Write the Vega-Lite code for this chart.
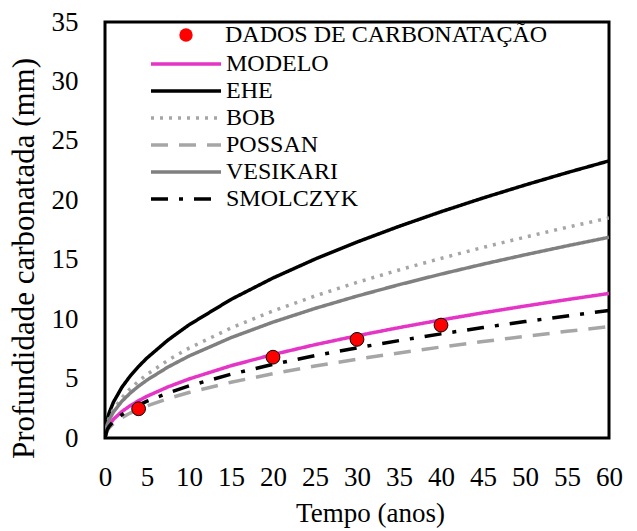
{
  "$schema": "https://vega.github.io/schema/vega-lite/v6.json",
  "width": 504,
  "height": 416,
  "autosize": {"type": "none"},
  "padding": {"left": 105, "top": 22, "right": 28, "bottom": 93},
  "background": "white",
  "config": {
    "font": "Liberation Serif",
    "view": {"stroke": "black", "strokeWidth": 3},
    "legend": {"labelFont": "Liberation Serif", "labelFontSize": 24, "labelColor": "black", "padding": 0, "labelLimit": 400}
  },
  "datasets": {
    "curvas": [
      {"t": 0, "d": 0, "serie": "MODELO"}, {"t": 0.25, "d": 0.785, "serie": "MODELO"}, {"t": 0.5, "d": 1.11, "serie": "MODELO"}, {"t": 1, "d": 1.57, "serie": "MODELO"}, {"t": 2, "d": 2.22, "serie": "MODELO"}, {"t": 3, "d": 2.719, "serie": "MODELO"}, {"t": 4, "d": 3.14, "serie": "MODELO"}, {"t": 5, "d": 3.511, "serie": "MODELO"}, {"t": 7.5, "d": 4.3, "serie": "MODELO"}, {"t": 10, "d": 4.965, "serie": "MODELO"}, {"t": 15, "d": 6.081, "serie": "MODELO"}, {"t": 20, "d": 7.021, "serie": "MODELO"}, {"t": 25, "d": 7.85, "serie": "MODELO"}, {"t": 30, "d": 8.599, "serie": "MODELO"}, {"t": 35, "d": 9.288, "serie": "MODELO"}, {"t": 40, "d": 9.93, "serie": "MODELO"}, {"t": 45, "d": 10.532, "serie": "MODELO"}, {"t": 50, "d": 11.102, "serie": "MODELO"}, {"t": 55, "d": 11.643, "serie": "MODELO"}, {"t": 60, "d": 12.161, "serie": "MODELO"},
      {"t": 0, "d": 0, "serie": "EHE"}, {"t": 0.25, "d": 1.505, "serie": "EHE"}, {"t": 0.5, "d": 2.128, "serie": "EHE"}, {"t": 1, "d": 3.01, "serie": "EHE"}, {"t": 2, "d": 4.257, "serie": "EHE"}, {"t": 3, "d": 5.214, "serie": "EHE"}, {"t": 4, "d": 6.02, "serie": "EHE"}, {"t": 5, "d": 6.731, "serie": "EHE"}, {"t": 7.5, "d": 8.243, "serie": "EHE"}, {"t": 10, "d": 9.519, "serie": "EHE"}, {"t": 15, "d": 11.658, "serie": "EHE"}, {"t": 20, "d": 13.461, "serie": "EHE"}, {"t": 25, "d": 15.05, "serie": "EHE"}, {"t": 30, "d": 16.486, "serie": "EHE"}, {"t": 35, "d": 17.807, "serie": "EHE"}, {"t": 40, "d": 19.037, "serie": "EHE"}, {"t": 45, "d": 20.192, "serie": "EHE"}, {"t": 50, "d": 21.284, "serie": "EHE"}, {"t": 55, "d": 22.323, "serie": "EHE"}, {"t": 60, "d": 23.315, "serie": "EHE"},
      {"t": 0, "d": 0, "serie": "BOB"}, {"t": 0.25, "d": 1.195, "serie": "BOB"}, {"t": 0.5, "d": 1.69, "serie": "BOB"}, {"t": 1, "d": 2.39, "serie": "BOB"}, {"t": 2, "d": 3.38, "serie": "BOB"}, {"t": 3, "d": 4.14, "serie": "BOB"}, {"t": 4, "d": 4.78, "serie": "BOB"}, {"t": 5, "d": 5.344, "serie": "BOB"}, {"t": 7.5, "d": 6.545, "serie": "BOB"}, {"t": 10, "d": 7.558, "serie": "BOB"}, {"t": 15, "d": 9.256, "serie": "BOB"}, {"t": 20, "d": 10.688, "serie": "BOB"}, {"t": 25, "d": 11.95, "serie": "BOB"}, {"t": 30, "d": 13.091, "serie": "BOB"}, {"t": 35, "d": 14.139, "serie": "BOB"}, {"t": 40, "d": 15.116, "serie": "BOB"}, {"t": 45, "d": 16.033, "serie": "BOB"}, {"t": 50, "d": 16.9, "serie": "BOB"}, {"t": 55, "d": 17.725, "serie": "BOB"}, {"t": 60, "d": 18.513, "serie": "BOB"},
      {"t": 0, "d": 0, "serie": "POSSAN"}, {"t": 0.25, "d": 0.605, "serie": "POSSAN"}, {"t": 0.5, "d": 0.856, "serie": "POSSAN"}, {"t": 1, "d": 1.21, "serie": "POSSAN"}, {"t": 2, "d": 1.711, "serie": "POSSAN"}, {"t": 3, "d": 2.096, "serie": "POSSAN"}, {"t": 4, "d": 2.42, "serie": "POSSAN"}, {"t": 5, "d": 2.706, "serie": "POSSAN"}, {"t": 7.5, "d": 3.314, "serie": "POSSAN"}, {"t": 10, "d": 3.826, "serie": "POSSAN"}, {"t": 15, "d": 4.686, "serie": "POSSAN"}, {"t": 20, "d": 5.411, "serie": "POSSAN"}, {"t": 25, "d": 6.05, "serie": "POSSAN"}, {"t": 30, "d": 6.627, "serie": "POSSAN"}, {"t": 35, "d": 7.158, "serie": "POSSAN"}, {"t": 40, "d": 7.653, "serie": "POSSAN"}, {"t": 45, "d": 8.117, "serie": "POSSAN"}, {"t": 50, "d": 8.556, "serie": "POSSAN"}, {"t": 55, "d": 8.974, "serie": "POSSAN"}, {"t": 60, "d": 9.373, "serie": "POSSAN"},
      {"t": 0, "d": 0, "serie": "VESIKARI"}, {"t": 0.25, "d": 1.09, "serie": "VESIKARI"}, {"t": 0.5, "d": 1.541, "serie": "VESIKARI"}, {"t": 1, "d": 2.18, "serie": "VESIKARI"}, {"t": 2, "d": 3.083, "serie": "VESIKARI"}, {"t": 3, "d": 3.776, "serie": "VESIKARI"}, {"t": 4, "d": 4.36, "serie": "VESIKARI"}, {"t": 5, "d": 4.875, "serie": "VESIKARI"}, {"t": 7.5, "d": 5.97, "serie": "VESIKARI"}, {"t": 10, "d": 6.894, "serie": "VESIKARI"}, {"t": 15, "d": 8.443, "serie": "VESIKARI"}, {"t": 20, "d": 9.749, "serie": "VESIKARI"}, {"t": 25, "d": 10.9, "serie": "VESIKARI"}, {"t": 30, "d": 11.94, "serie": "VESIKARI"}, {"t": 35, "d": 12.897, "serie": "VESIKARI"}, {"t": 40, "d": 13.788, "serie": "VESIKARI"}, {"t": 45, "d": 14.624, "serie": "VESIKARI"}, {"t": 50, "d": 15.415, "serie": "VESIKARI"}, {"t": 55, "d": 16.167, "serie": "VESIKARI"}, {"t": 60, "d": 16.886, "serie": "VESIKARI"},
      {"t": 0, "d": 0, "serie": "SMOLCZYK"}, {"t": 0.25, "d": 0.693, "serie": "SMOLCZYK"}, {"t": 0.5, "d": 0.979, "serie": "SMOLCZYK"}, {"t": 1, "d": 1.385, "serie": "SMOLCZYK"}, {"t": 2, "d": 1.959, "serie": "SMOLCZYK"}, {"t": 3, "d": 2.399, "serie": "SMOLCZYK"}, {"t": 4, "d": 2.77, "serie": "SMOLCZYK"}, {"t": 5, "d": 3.097, "serie": "SMOLCZYK"}, {"t": 7.5, "d": 3.793, "serie": "SMOLCZYK"}, {"t": 10, "d": 4.38, "serie": "SMOLCZYK"}, {"t": 15, "d": 5.364, "serie": "SMOLCZYK"}, {"t": 20, "d": 6.194, "serie": "SMOLCZYK"}, {"t": 25, "d": 6.925, "serie": "SMOLCZYK"}, {"t": 30, "d": 7.586, "serie": "SMOLCZYK"}, {"t": 35, "d": 8.194, "serie": "SMOLCZYK"}, {"t": 40, "d": 8.76, "serie": "SMOLCZYK"}, {"t": 45, "d": 9.291, "serie": "SMOLCZYK"}, {"t": 50, "d": 9.793, "serie": "SMOLCZYK"}, {"t": 55, "d": 10.271, "serie": "SMOLCZYK"}, {"t": 60, "d": 10.728, "serie": "SMOLCZYK"}
    ],
    "dados": [
      {"t": 4, "d": 2.46, "serie": "DADOS DE CARBONATAÇÃO"},
      {"t": 20, "d": 6.8, "serie": "DADOS DE CARBONATAÇÃO"},
      {"t": 30, "d": 8.3, "serie": "DADOS DE CARBONATAÇÃO"},
      {"t": 40, "d": 9.5, "serie": "DADOS DE CARBONATAÇÃO"}
    ]
  },
  "layer": [
    {
      "data": {"name": "curvas"},
      "mark": {"type": "line", "strokeWidth": 3.5, "strokeCap": "butt", "clip": true},
      "encoding": {
        "x": {"field": "t", "type": "quantitative", "scale": {"domain": [0, 60]}, "axis": {"values": [0,5,10,15,20,25,30,35,40,45,50,55,60], "grid": false, "ticks": false, "domain": false, "labelFont": "Liberation Serif", "labelFontSize": 27, "labelColor": "black", "labelPadding": 26, "labelFlush": false, "labelOverlap": false, "title": "Tempo (anos)", "titleFont": "Liberation Serif", "titleFontSize": 27, "titleFontWeight": "normal", "titleColor": "black", "titleX": 265, "titleY": 83, "titleBaseline": "alphabetic", "titleAlign": "center"}},
        "y": {"field": "d", "type": "quantitative", "scale": {"domain": [0, 35]}, "axis": {"values": [0,5,10,15,20,25,30,35], "grid": false, "ticks": false, "domain": false, "labelFont": "Liberation Serif", "labelFontSize": 27, "labelColor": "black", "labelPadding": 27, "labelFlush": false, "labelOverlap": false, "title": "Profundidade carbonatada (mm)", "titleFont": "Liberation Serif", "titleFontSize": 31, "titleFontWeight": "normal", "titleColor": "black", "titleX": -72, "titleY": 236, "titleBaseline": "alphabetic", "titleAlign": "center", "titleAngle": 270}},
        "color": {
          "field": "serie", "type": "nominal",
          "scale": {"domain": ["MODELO", "EHE", "BOB", "POSSAN", "VESIKARI", "SMOLCZYK"], "range": ["#e535c6", "#000000", "#a6a6a6", "#a6a6a6", "#808080", "#000000"]},
          "legend": {"title": null, "orient": "none", "legendX": 69, "legendY": 30, "symbolType": "M-5,0H5", "symbolSize": 196, "symbolStrokeWidth": 3.5, "labelOffset": 28, "rowPadding": 3}
        },
        "strokeDash": {
          "field": "serie", "type": "nominal",
          "scale": {"domain": ["MODELO", "EHE", "BOB", "POSSAN", "VESIKARI", "SMOLCZYK"], "range": [[1, 0], [1, 0], [3, 6], [17, 11], [1, 0], [17, 11, 4, 11]]},
          "legend": {"title": null, "orient": "none", "legendX": 69, "legendY": 30, "symbolType": "M-5,0H5", "symbolSize": 196, "symbolStrokeWidth": 3.5, "labelOffset": 28, "rowPadding": 3}
        }
      }
    },
    {
      "data": {"name": "dados"},
      "mark": {"type": "point", "shape": "circle", "filled": true, "fill": "#ff0000", "size": 190, "stroke": "black", "strokeWidth": 1, "opacity": 1},
      "encoding": {
        "x": {"field": "t", "type": "quantitative"},
        "y": {"field": "d", "type": "quantitative"},
        "shape": {
          "field": "serie", "type": "nominal",
          "scale": {"domain": ["DADOS DE CARBONATAÇÃO"], "range": ["circle"]},
          "legend": {"title": null, "orient": "none", "legendX": 69, "legendY": 1, "symbolSize": 180, "symbolFillColor": "#ff0000", "symbolStrokeColor": "#000000", "symbolStrokeWidth": 1, "symbolOpacity": 1, "labelOffset": 27}
        }
      }
    }
  ]
}
